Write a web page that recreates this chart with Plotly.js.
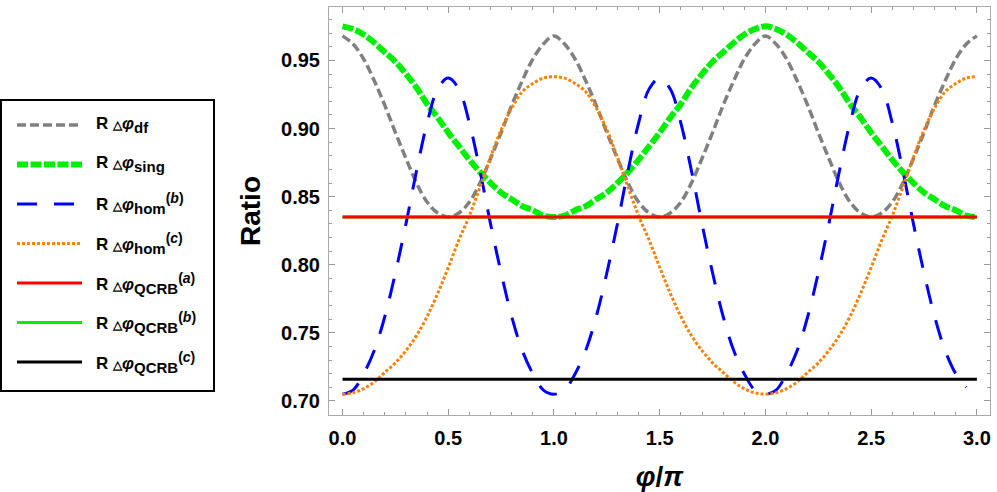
<!DOCTYPE html>
<html>
<head>
<meta charset="utf-8">
<script src="https://cdn.plot.ly/plotly-3.0.1.min.js"></script>
<style>
  body { margin: 0; background: #fff; }
  #ratio-plot { width: 997px; height: 492px; }
</style>
</head>
<body>
<div id="ratio-plot"></div>
<script>
// phase samples, in units of pi
const phi = [
    0.00, 0.05, 0.10, 0.15, 0.20, 0.25, 0.30, 0.35, 0.40, 0.45,
    0.50, 0.55, 0.60, 0.65, 0.70, 0.75, 0.80, 0.85, 0.90, 0.95,
    1.00, 1.05, 1.10, 1.15, 1.20, 1.25, 1.30, 1.35, 1.40, 1.45,
    1.50, 1.55, 1.60, 1.65, 1.70, 1.75, 1.80, 1.85, 1.90, 1.95,
    2.00, 2.05, 2.10, 2.15, 2.20, 2.25, 2.30, 2.35, 2.40, 2.45,
    2.50, 2.55, 2.60, 2.65, 2.70, 2.75, 2.80, 2.85, 2.90, 2.95,
    3.00
];

// R dphi_df (gray dashed)
const ratioDf = [
    0.968, 0.962, 0.951, 0.935, 0.917, 0.897, 0.878, 0.860, 0.846, 0.838,
    0.835, 0.838, 0.846, 0.860, 0.878, 0.897, 0.917, 0.935, 0.951, 0.962,
    0.968, 0.962, 0.951, 0.935, 0.917, 0.897, 0.878, 0.860, 0.846, 0.838,
    0.835, 0.838, 0.846, 0.860, 0.878, 0.897, 0.917, 0.935, 0.951, 0.962,
    0.968, 0.962, 0.951, 0.935, 0.917, 0.897, 0.878, 0.860, 0.846, 0.838,
    0.835, 0.838, 0.846, 0.860, 0.878, 0.897, 0.917, 0.935, 0.951, 0.962,
    0.968
];

// R dphi_sing (thick green dashed)
const ratioSing = [
    0.975, 0.973, 0.969, 0.963, 0.956, 0.949, 0.940, 0.930, 0.918, 0.908,
    0.897, 0.887, 0.877, 0.868, 0.860, 0.853, 0.848, 0.843, 0.840, 0.836,
    0.835, 0.836, 0.840, 0.843, 0.848, 0.853, 0.860, 0.868, 0.877, 0.887,
    0.897, 0.908, 0.918, 0.930, 0.940, 0.949, 0.956, 0.963, 0.969, 0.973,
    0.975, 0.973, 0.969, 0.963, 0.956, 0.949, 0.940, 0.930, 0.918, 0.908,
    0.897, 0.887, 0.877, 0.868, 0.860, 0.853, 0.848, 0.843, 0.840, 0.836,
    0.835
];

// R dphi_hom^(b) (blue long dashes) - stops just short of 3 in the figure
const ratioHomB = [
    0.705, 0.708, 0.720, 0.737, 0.762, 0.794, 0.830, 0.869, 0.904, 0.929,
    0.937, 0.929, 0.904, 0.869, 0.830, 0.794, 0.762, 0.737, 0.720, 0.708,
    0.705, 0.708, 0.720, 0.737, 0.762, 0.794, 0.830, 0.869, 0.904, 0.929,
    0.937, 0.929, 0.904, 0.869, 0.830, 0.794, 0.762, 0.737, 0.720, 0.708,
    0.705, 0.708, 0.720, 0.737, 0.762, 0.794, 0.830, 0.869, 0.904, 0.929,
    0.937, 0.929, 0.904, 0.869, 0.830, 0.794, 0.762, 0.737, 0.720, 0.710,
    null
];

// R dphi_hom^(c) (orange dotted)
const ratioHomC = [
    0.705, 0.706, 0.709, 0.714, 0.721, 0.728, 0.737, 0.748, 0.762, 0.779,
    0.798, 0.818, 0.836, 0.857, 0.879, 0.899, 0.915, 0.927, 0.933, 0.937,
    0.938, 0.937, 0.933, 0.927, 0.915, 0.899, 0.879, 0.857, 0.836, 0.818,
    0.798, 0.779, 0.762, 0.748, 0.737, 0.728, 0.721, 0.714, 0.709, 0.706,
    0.705, 0.706, 0.709, 0.714, 0.721, 0.728, 0.737, 0.748, 0.762, 0.779,
    0.798, 0.818, 0.836, 0.857, 0.879, 0.899, 0.915, 0.927, 0.933, 0.937,
    0.938
];

// QCRB bounds (constant in phi)
const qcrbPhi = [0, 3];
const qcrbA = [0.835, 0.835];
const qcrbB = [0.835, 0.835];
const qcrbC = [0.716, 0.716];

const xTickVals = [0, 0.5, 1, 1.5, 2, 2.5, 3];
const yTickVals = [0.70, 0.75, 0.80, 0.85, 0.90, 0.95];

const FONT = 'Liberation Sans, Arial, sans-serif';

// plot area in pixels (margins)
const M = { l: 329, r: 7, t: 7, b: 77 };
const PW = 997 - M.l - M.r;
const PH = 492 - M.t - M.b;
function paperX(px) { return (px - M.l) / PW; }
function paperY(py) { return (492 - M.b - py) / PH; }

function curve(x, y, name, color, width, dash) {
    return {
        x: x, y: y, name: name,
        type: 'scatter', mode: 'lines',
        line: { color: color, width: width, dash: dash, shape: 'spline', smoothing: 1 },
        showlegend: false, hoverinfo: 'skip'
    };
}

// legend label: R, small triangle, italic phi, subscript and optional superscript
function label(sub, sup) {
    let t = 'R <span style="font-size:12px">\u25B3</span><i>\u03C6</i>' +
        '<sub><span style="font-size:15px">' + sub + '</span></sub>';
    if (sup) t += '<sup><span style="font-size:14px">(<i>' + sup + '</i>)</span></sup>';
    return t;
}

const series = [
    { y: ratioDf,   x: phi,     color: '#808080', width: 3.5, dash: '9px,4px',   label: label('df') },
    { y: ratioSing, x: phi,     color: '#00ee00', width: 6,   dash: '11px,2.5px', label: label('sing') },
    { y: ratioHomB, x: phi,     color: '#0000ff', width: 3,   dash: '20px,17px', label: label('hom', 'b') },
    { y: ratioHomC, x: phi,     color: '#ff8000', width: 3,   dash: '3px,2px',   label: label('hom', 'c') },
    { y: qcrbA,     x: qcrbPhi, color: '#ff0000', width: 3,   dash: 'solid',     label: label('QCRB', 'a') },
    { y: qcrbB,     x: qcrbPhi, color: '#00ee00', width: 3,   dash: 'solid',     label: label('QCRB', 'b') },
    { y: qcrbC,     x: qcrbPhi, color: '#000000', width: 3,   dash: 'solid',     label: label('QCRB', 'c') }
];

// draw order: curves first, then green QCRB under the red one, then black
const drawOrder = [0, 1, 2, 3, 5, 4, 6];
const traces = drawOrder.map(function(i) {
    const s = series[i];
    return curve(s.x, s.y, s.label, s.color, s.width, s.dash);
});

// hand-made legend box on the left
const shapes = [{
    type: 'rect', xref: 'paper', yref: 'paper',
    x0: paperX(1), x1: paperX(214), y0: paperY(391), y1: paperY(100),
    line: { color: '#000', width: 2 }, fillcolor: 'rgba(0,0,0,0)'
}];
const annotations = [];
series.forEach(function(s, i) {
    const py = 125 + i * 39.5;
    shapes.push({
        type: 'line', xref: 'paper', yref: 'paper',
        x0: paperX(17), x1: paperX(82), y0: paperY(py), y1: paperY(py),
        line: { color: s.color, width: s.width, dash: s.dash }
    });
    annotations.push({
        xref: 'paper', yref: 'paper', x: paperX(94), y: paperY(py),
        xanchor: 'left', yanchor: 'middle', showarrow: false,
        text: s.label,
        font: { family: FONT, size: 17, weight: 'bold', color: '#000' }
    });
});

const axisCommon = {
    showline: true, linecolor: '#aaaaaa', linewidth: 1,
    mirror: 'allticks', ticks: 'inside', tickcolor: '#999999', tickwidth: 1,
    showgrid: false, zeroline: false,
    tickfont: { family: FONT, size: 20, weight: 'bold', color: '#000' }
};

const layout = {
    width: 997, height: 492,
    margin: M,
    paper_bgcolor: '#fff', plot_bgcolor: '#fff',
    showlegend: false,
    xaxis: Object.assign({}, axisCommon, {
        range: [-0.064, 3.062],
        tickvals: xTickVals, tickformat: '.1f', ticklen: 6,
        ticklabelstandoff: 5,
        minor: { ticks: 'inside', dtick: 0.1, tick0: 0, ticklen: 3, tickcolor: '#999999' },
        title: {
            text: '<i>\u03C6</i>/<i>\u03C0</i>', standoff: 22,
            font: { family: FONT, size: 28, weight: 'bold', color: '#000' }
        }
    }),
    yaxis: Object.assign({}, axisCommon, {
        range: [0.6897, 0.9892],
        tickvals: yTickVals, tickformat: '.2f', ticklen: 6,
        ticklabelstandoff: 4,
        minor: { ticks: 'inside', dtick: 0.01, tick0: 0.7, ticklen: 3, tickcolor: '#999999' },
        title: {
            text: 'Ratio', standoff: 12,
            font: { family: FONT, size: 28, weight: 'bold', color: '#000' }
        }
    }),
    shapes: shapes,
    annotations: annotations
};

Plotly.newPlot('ratio-plot', traces, layout, { displayModeBar: false, staticPlot: true });
</script>
</body>
</html>
